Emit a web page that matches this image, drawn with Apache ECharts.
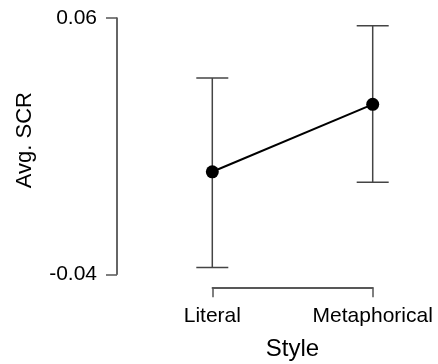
<!DOCTYPE html>
<html>
<head>
<meta charset="utf-8">
<script src="https://cdn.jsdelivr.net/npm/echarts@6/dist/echarts.min.js"></script>
<style>html,body{margin:0;padding:0;background:#fff}#c{width:438px;height:364px}</style>
</head>
<body>
<div id="c"></div>
<script>
const categories = ['Literal', 'Metaphorical'];
const means = [0.0000, 0.0263];
const lower = [-0.0373, -0.0041];
const upper = [0.0366, 0.0570];
const yTicks = [-0.04, 0.06];

const chart = echarts.init(document.getElementById('c'));
const font = 'Liberation Sans, Arial, sans-serif';
chart.setOption({
  animation: false,
  grid: { left: 212.3, right: 65.3, top: 18, bottom: 89.7, containLabel: false, outerBoundsMode: 'none' },
  xAxis: {
    type: 'category', data: categories, boundaryGap: false, offset: 13,
    name: 'Style', nameLocation: 'middle', nameGap: 50,
    nameTextStyle: { fontFamily: font, fontSize: 24, color: '#000' },
    axisLine: { onZero: false, lineStyle: { color: '#222', width: 1.5 } },
    axisTick: { length: 10, lineStyle: { color: '#555', width: 1.5 } },
    axisLabel: { fontFamily: font, fontSize: 21, color: '#000', margin: 18 },
    splitLine: { show: false }
  },
  yAxis: {
    type: 'value', min: yTicks[0], max: yTicks[1], offset: 95.3,
    name: 'Avg. SCR', nameLocation: 'middle', nameGap: 81, nameRotate: 90,
    nameTextStyle: { fontFamily: font, fontSize: 22, color: '#000', padding: [0, 0, 0, 12] },
    axisLine: { show: true, onZero: false, lineStyle: { color: '#333', width: 1.5 } },
    axisTick: { show: true, length: 11, customValues: yTicks, lineStyle: { color: '#555', width: 1.5 } },
    axisLabel: { fontFamily: font, fontSize: 21, color: '#000', margin: 20, customValues: yTicks,
      formatter: v => v.toFixed(2) },
    splitLine: { show: false }
  },
  series: [
    {
      type: 'custom', z: 1,
      data: categories.map((c, i) => [i, lower[i], upper[i]]),
      renderItem: (params, api) => {
        const lo = api.coord([api.value(0), api.value(1)]);
        const hi = api.coord([api.value(0), api.value(2)]);
        const hw = 16;
        const style = { stroke: '#444', lineWidth: 1.5 };
        return { type: 'group', children: [
          { type: 'line', shape: { x1: lo[0], y1: lo[1], x2: hi[0], y2: hi[1] }, style },
          { type: 'line', shape: { x1: hi[0] - hw, y1: hi[1], x2: hi[0] + hw, y2: hi[1] }, style },
          { type: 'line', shape: { x1: lo[0] - hw, y1: lo[1], x2: lo[0] + hw, y2: lo[1] }, style }
        ]};
      }
    },
    {
      type: 'line', z: 3, data: means, symbol: 'circle', symbolSize: 13,
      lineStyle: { color: '#000', width: 2 }, itemStyle: { color: '#000' }
    }
  ]
});
</script>
</body>
</html>
